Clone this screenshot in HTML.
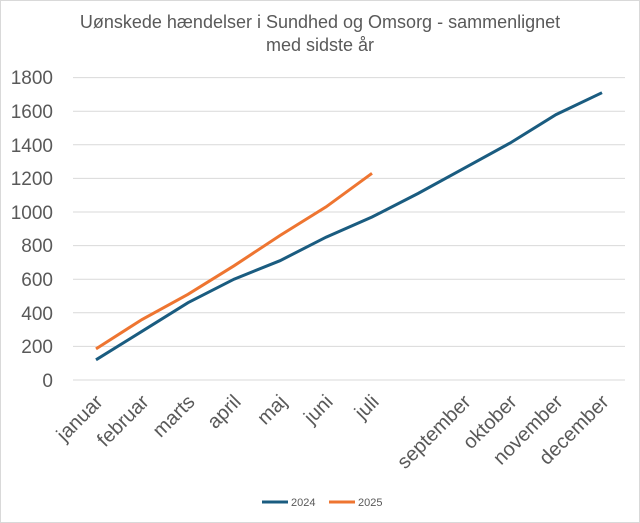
<!DOCTYPE html>
<html><head><meta charset="utf-8"><style>
body{margin:0;background:#fff}
svg{display:block;font-family:"Liberation Sans",sans-serif}
</style></head><body>
<svg width="640" height="523" viewBox="0 0 640 523">
<rect x="0.5" y="0.5" width="639" height="522" fill="#fff" stroke="#d9d9d9"/>
<text x="320" y="28" text-anchor="middle" font-size="18" fill="#595959">Uønskede hændelser i Sundhed og Omsorg - sammenlignet</text>
<text x="320" y="51" text-anchor="middle" font-size="18" fill="#595959">med sidste år</text>
<g stroke="#d9d9d9" stroke-width="1">
<line x1="73" x2="625" y1="380" y2="380"/><line x1="73" x2="625" y1="346.4" y2="346.4"/>
<line x1="73" x2="625" y1="312.8" y2="312.8"/><line x1="73" x2="625" y1="279.2" y2="279.2"/>
<line x1="73" x2="625" y1="245.6" y2="245.6"/><line x1="73" x2="625" y1="212" y2="212"/>
<line x1="73" x2="625" y1="178.4" y2="178.4"/><line x1="73" x2="625" y1="144.8" y2="144.8"/>
<line x1="73" x2="625" y1="111.2" y2="111.2"/><line x1="73" x2="625" y1="77.6" y2="77.6"/>
</g>
<g font-size="19" fill="#595959" text-anchor="end">
<text x="53" y="387">0</text><text x="53" y="353">200</text><text x="53" y="320">400</text>
<text x="53" y="286">600</text><text x="53" y="252">800</text><text x="53" y="219">1000</text>
<text x="53" y="185">1200</text><text x="53" y="152">1400</text><text x="53" y="118">1600</text>
<text x="53" y="84">1800</text>
</g>
<polyline fill="none" stroke="#1a5c80" stroke-width="3" points="96,359.8 142,331.3 188,302.7 234,279.2 280,260.7 326,237.2 372,217 418,193.5 464,168.3 510,143.1 556,114.6 602,92.7"/>
<polyline fill="none" stroke="#ee7531" stroke-width="3" points="96,348.9 142,319.5 188,294.3 234,265.8 280,235.5 326,206.9 372,173.3"/>
<g font-size="20" fill="#595959" text-anchor="end">
<text transform="translate(104,403) rotate(-45)">januar</text>
<text transform="translate(150,403) rotate(-45)">februar</text>
<text transform="translate(196,403) rotate(-45)">marts</text>
<text transform="translate(242,403) rotate(-45)">april</text>
<text transform="translate(288,403) rotate(-45)">maj</text>
<text transform="translate(334,403) rotate(-45)">juni</text>
<text transform="translate(380,403) rotate(-45)">juli</text>
<text transform="translate(472,403) rotate(-45)">september</text>
<text transform="translate(518,403) rotate(-45)">oktober</text>
<text transform="translate(564,403) rotate(-45)">november</text>
<text transform="translate(610,403) rotate(-45)">december</text>
</g>
<line x1="262" x2="288" y1="502" y2="502" stroke="#1a5c80" stroke-width="3"/>
<text x="291" y="506" font-size="11" fill="#595959">2024</text>
<line x1="329" x2="355" y1="502" y2="502" stroke="#ee7531" stroke-width="3"/>
<text x="358" y="506" font-size="11" fill="#595959">2025</text>
</svg>
</body></html>
